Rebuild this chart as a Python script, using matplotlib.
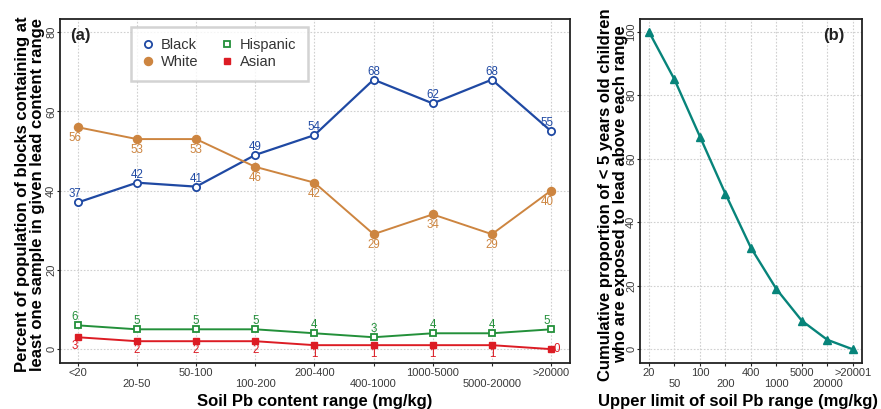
import matplotlib
matplotlib.use("Agg")
import matplotlib.pyplot as plt

plt.rcParams['font.family'] = ['Liberation Sans', 'DejaVu Sans']

categories = ["<20", "20-50", "50-100", "100-200", "200-400", "400-1000",
              "1000-5000", "5000-20000", ">20000"]
black = [37, 42, 41, 49, 54, 68, 62, 68, 55]
white = [56, 53, 53, 46, 42, 29, 34, 29, 40]
hispanic = [6, 5, 5, 5, 4, 3, 4, 4, 5]
asian = [3, 2, 2, 2, 1, 1, 1, 1, 0]

limits = ["20", "50", "100", "200", "400", "1000", "5000", "20000", ">20001"]
cumulative = [100, 85, 67, 49, 32, 19, 9, 3, 0]

C_BLACK = "#1f49a3"
C_WHITE = "#cd8540"
C_HISP = "#23903a"
C_ASIAN = "#dc1c24"
C_TEAL = "#07847a"
TICKC = "#3a3a3a"

fig = plt.figure(figsize=(8.81, 4.09), dpi=100)
W, H = 881, 409
axa = fig.add_axes([60 / W, 1 - 363 / H, (570 - 60) / W, (363 - 19) / H])
axb = fig.add_axes([640 / W, 1 - 363 / H, (862 - 640) / W, (363 - 19) / H])


def style(ax):
    for s in ax.spines.values():
        s.set_color("#222222")
        s.set_linewidth(1.3)
    ax.grid(True, color="#d0d0d0", linestyle=(0, (1.5, 1.5)), linewidth=0.8)
    ax.set_axisbelow(True)
    ax.tick_params(axis='both', colors="#222222", labelcolor=TICKC, labelsize=8,
                   length=2.5, width=0.8, pad=0.8)
    ax.tick_params(axis='y', labelrotation=90, pad=0.2)
    for lab in ax.get_yticklabels():
        lab.set_va('center')
    for i, t in enumerate(ax.xaxis.get_major_ticks()):
        if i % 2 == 1:
            t.set_pad(9.3)


x = list(range(len(categories)))
axa.plot(x, black, color=C_BLACK, lw=1.6, marker='o', ms=5.2, mfc='white',
         mec=C_BLACK, mew=1.3, label="Black", zorder=3)
axa.plot(x, white, color=C_WHITE, lw=1.4, marker='o', ms=5.8, mfc=C_WHITE,
         mec=C_WHITE, label="White", zorder=3)
axa.plot(x, hispanic, color=C_HISP, lw=1.4, marker='s', ms=4.8, mfc='white',
         mec=C_HISP, mew=1.3, label="Hispanic", zorder=3)
axa.plot(x, asian, color=C_ASIAN, lw=1.4, marker='s', ms=5.0, mfc=C_ASIAN,
         mec=C_ASIAN, label="Asian", zorder=3)

fs = 8.3
n = len(x)
for i in x:
    dx = -3 if i == 0 else (-4 if i == n - 1 else 0)
    axa.annotate(str(black[i]), (i, black[i]), xytext=(dx, 8), textcoords='offset pixels',
                 color=C_BLACK, fontsize=fs, ha='center', va='center')
    axa.annotate(str(white[i]), (i, white[i]), xytext=(dx, -11), textcoords='offset pixels',
                 color=C_WHITE, fontsize=fs, ha='center', va='center')
    axa.annotate(str(hispanic[i]), (i, hispanic[i]), xytext=(dx, 8), textcoords='offset pixels',
                 color=C_HISP, fontsize=fs, ha='center', va='center')
    if i == n - 1:
        axa.annotate(str(asian[i]), (i, asian[i]), xytext=(6, 0), textcoords='offset pixels',
                     color=C_ASIAN, fontsize=fs, ha='center', va='center')
    else:
        axa.annotate(str(asian[i]), (i, asian[i]), xytext=(dx, -9), textcoords='offset pixels',
                     color=C_ASIAN, fontsize=fs, ha='center', va='center')

axa.set_xlim(-0.3, 8.32)
axa.set_ylim(-3.5, 83.3)
axa.set_yticks([0, 20, 40, 60, 80])
axa.set_xticks(x)
axa.set_xticklabels(categories)
style(axa)
axa.set_xlabel("Soil Pb content range (mg/kg)", fontsize=12, fontweight='bold')
axa.xaxis.set_label_coords(0.5, -0.09)
axa.set_ylabel("Percent of population of blocks containing at\nleast one sample in given lead content range",
               fontsize=12, fontweight='bold', linespacing=1.0)
axa.yaxis.set_label_coords(-0.03, 0.49)
axa.text(0.02, 0.975, "(a)", transform=axa.transAxes, fontsize=12,
         fontweight='bold', ha='left', va='top', color="#222222")

handles, labels = axa.get_legend_handles_labels()
leg = axa.legend(handles, labels, ncol=2, loc='upper left',
                 bbox_to_anchor=(0.139, 0.978),
                 frameon=True, fancybox=False, fontsize=10.5, handlelength=0.8,
                 handletextpad=0.45, columnspacing=1.6, labelspacing=0.22,
                 borderpad=0.8, borderaxespad=0)
for lh in leg.legend_handles:
    lh.set_linestyle('none')
leg.get_frame().set_edgecolor("#c8c8c8")
leg.get_frame().set_linewidth(1.8)
for t in leg.get_texts():
    t.set_color("#333333")

xb = list(range(len(limits)))
axb.plot(xb, cumulative, color=C_TEAL, lw=1.7, marker='^', ms=5.8, mfc=C_TEAL,
         mec=C_TEAL, zorder=3)
axb.set_xlim(-0.35, 8.36)
axb.set_ylim(-4.3, 104)
axb.set_yticks([0, 20, 40, 60, 80, 100])
axb.set_xticks(xb)
axb.set_xticklabels(limits)
style(axb)
axb.set_xlabel("Upper limit of soil Pb range (mg/kg)", fontsize=12,
               fontweight='bold')
axb.xaxis.set_label_coords(0.44, -0.09)
axb.set_ylabel("Cumulative proportion of < 5 years old children\nwho are exposed to lead above each range",
               fontsize=12, fontweight='bold', linespacing=1.0)
axb.yaxis.set_label_coords(-0.055, 0.49)
axb.text(0.92, 0.975, "(b)", transform=axb.transAxes, fontsize=12,
         fontweight='bold', ha='right', va='top', color="#222222")

fig.savefig("out.png", dpi=100)
